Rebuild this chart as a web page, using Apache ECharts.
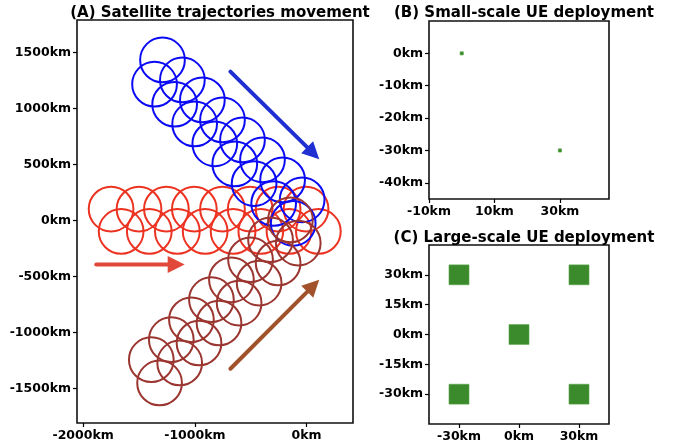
<!DOCTYPE html>
<html>
<head>
<meta charset="utf-8">
<script src="https://cdn.jsdelivr.net/npm/echarts@6/dist/echarts.min.js"></script>
<style>html,body{margin:0;padding:0;background:#fff}#c{width:673px;height:447px}</style>
</head>
<body>
<div id="c"></div>
<script>
// ---------- DATA ----------
const titles = ['(A) Satellite trajectories movement', '(B) Small-scale UE deployment', '(C) Large-scale UE deployment'];
const circleRadiusKm = 200;
const blueCircles = [
  [-1290, 1435], [-1112, 1256], [-933, 1078], [-753, 899], [-574, 720], [-395, 542], [-215, 363], [-40, 185],
  [-1361, 1218], [-1181, 1039], [-1002, 863], [-822, 685], [-643, 506], [-470, 330], [-295, 152], [-120, -25]
];
const redCircles = [
  [-1750, 102], [-1500, 102], [-1255, 102], [-1005, 102], [-753, 102], [-505, 102], [-255, 102], [-5, 102],
  [-1660, -98], [-1408, -98], [-1157, -98], [-908, -98], [-658, -98], [-410, -98], [-158, -98], [105, -98]
];
const brownCircles = [
  [-1316, -1452], [-1136, -1273], [-963, -1095], [-784, -916], [-604, -738], [-425, -559], [-255, -380], [-75, -202],
  [-1390, -1244], [-1211, -1065], [-1031, -887], [-852, -708], [-673, -530], [-502, -351], [-323, -172], [-145, 5]
];
// arrows: [x1, y1, x2, y2] (tail -> tip), km
const blueArrow = [[-682, 1330, 113, 548]];
const redArrow = [[-1883, -393, -1091, -393]];
const brownArrow = [[-682, -1325, 113, -530]];
// UE clusters: [cx, cy] in km
const smallUE = [[0, 0], [30, -30]];
const smallUEHalf = 0.5;
const largeUE = [[-30, 30], [30, 30], [0, 0], [-30, -30], [30, -30]];
const largeUEHalf = 5;
// ticks
const aXTicks = [-2000, -1000, 0];
const aYTicks = [1500, 1000, 500, 0, -500, -1000, -1500];
const bXTicks = [-10, 10, 30];
const bYTicks = [0, -10, -20, -30, -40];
const cXTicks = [-30, 0, 30];
const cYTicks = [30, 15, 0, -15, -30];

// ---------- STYLE ----------
const FONT = 'DejaVu Sans';
const colors = {
  blue: '#0a0af5', red: '#ec3322', brown: '#9a3530',
  blueArrow: '#1f2fd2', redArrow: '#e2483a', brownArrow: '#a2522b',
  green: '#3b8a2c'
};

function circleSeries(data, color, idx) {
  return {
    type: 'custom', xAxisIndex: idx, yAxisIndex: idx, data: data,
    renderItem: function (params, api) {
      const c = api.coord([api.value(0), api.value(1)]);
      const r = api.size([circleRadiusKm, 0])[0];
      return { type: 'circle', shape: { cx: c[0], cy: c[1], r: r },
        style: { fill: 'none', stroke: color, lineWidth: 2 } };
    }
  };
}
function arrowSeries(data, color) {
  return {
    type: 'custom', xAxisIndex: 0, yAxisIndex: 0, data: data, z: 5,
    renderItem: function (params, api) {
      const p1 = api.coord([api.value(0), api.value(1)]);
      const p2 = api.coord([api.value(2), api.value(3)]);
      const dx = p2[0] - p1[0], dy = p2[1] - p1[1];
      const L = Math.sqrt(dx * dx + dy * dy);
      const ux = dx / L, uy = dy / L;
      const hl = 17, hw = 8.5;
      const bx = p2[0] - ux * hl, by = p2[1] - uy * hl;
      return { type: 'group', children: [
        { type: 'line', shape: { x1: p1[0], y1: p1[1], x2: bx + ux * 2, y2: by + uy * 2 },
          style: { stroke: color, lineWidth: 4, lineCap: 'round' } },
        { type: 'polygon', shape: { points: [[p2[0], p2[1]], [bx - uy * hw, by + ux * hw], [bx + uy * hw, by - ux * hw]] },
          style: { fill: color } }
      ] };
    }
  };
}
function squareSeries(data, half, idx) {
  return {
    type: 'custom', xAxisIndex: idx, yAxisIndex: idx, data: data,
    renderItem: function (params, api) {
      const a = api.coord([api.value(0) - half, api.value(1) + half]);
      const b = api.coord([api.value(0) + half, api.value(1) - half]);
      return { type: 'rect', shape: { x: a[0], y: a[1], width: b[0] - a[0], height: b[1] - a[1] },
        style: { fill: colors.green, stroke: '#5aa548', lineWidth: 0.6 } };
    }
  };
}
function axis(kind, idx, min, max, ticks) {
  return {
    type: 'value', gridIndex: idx, min: min, max: max,
    position: kind === 'x' ? 'bottom' : 'left',
    axisLine: { show: false, onZero: false },
    splitLine: { show: false },
    axisTick: { show: true, length: 4, customValues: ticks, lineStyle: { color: '#000', width: 1.2 } },
    axisLabel: { customValues: ticks, formatter: v => v + 'km', color: '#000',
      fontFamily: FONT, fontWeight: 'bold', fontSize: 12.5, margin: 6 }
  };
}
const gridStyle = { show: true, borderColor: '#111', borderWidth: 1.6, backgroundColor: '#fff' };

const option = {
  animation: false,
  backgroundColor: '#fff',
  title: [
    { text: titles[0], left: 215, top: 1, textAlign: 'center' },
    { text: titles[1], left: 519, top: 1, textAlign: 'center' },
    { text: titles[2], left: 519, top: 226, textAlign: 'center' }
  ].map(t => Object.assign(t, { textStyle: { fontFamily: FONT, fontWeight: 'bold', fontSize: 15, color: '#000' } })),
  grid: [
    Object.assign({ left: 77, top: 20, width: 276, height: 403 }, gridStyle),
    Object.assign({ left: 429, top: 21, width: 180, height: 178 }, gridStyle),
    Object.assign({ left: 429, top: 245, width: 180, height: 179 }, gridStyle)
  ],
  xAxis: [
    axis('x', 0, -2055, 415, aXTicks),
    axis('x', 1, -10, 45, bXTicks),
    axis('x', 2, -45, 45, cXTicks)
  ],
  yAxis: [
    axis('y', 0, -1810, 1792, aYTicks),
    axis('y', 1, -45, 10, bYTicks),
    axis('y', 2, -45, 45, cYTicks)
  ],
  series: [
    circleSeries(redCircles, colors.red, 0),
    circleSeries(blueCircles, colors.blue, 0),
    circleSeries(brownCircles, colors.brown, 0),
    arrowSeries(blueArrow, colors.blueArrow),
    arrowSeries(redArrow, colors.redArrow),
    arrowSeries(brownArrow, colors.brownArrow),
    squareSeries(smallUE, smallUEHalf, 1),
    squareSeries(largeUE, largeUEHalf, 2)
  ]
};
const chart = echarts.init(document.getElementById('c'), null, { renderer: 'canvas' });
chart.setOption(option);
</script>
</body>
</html>
